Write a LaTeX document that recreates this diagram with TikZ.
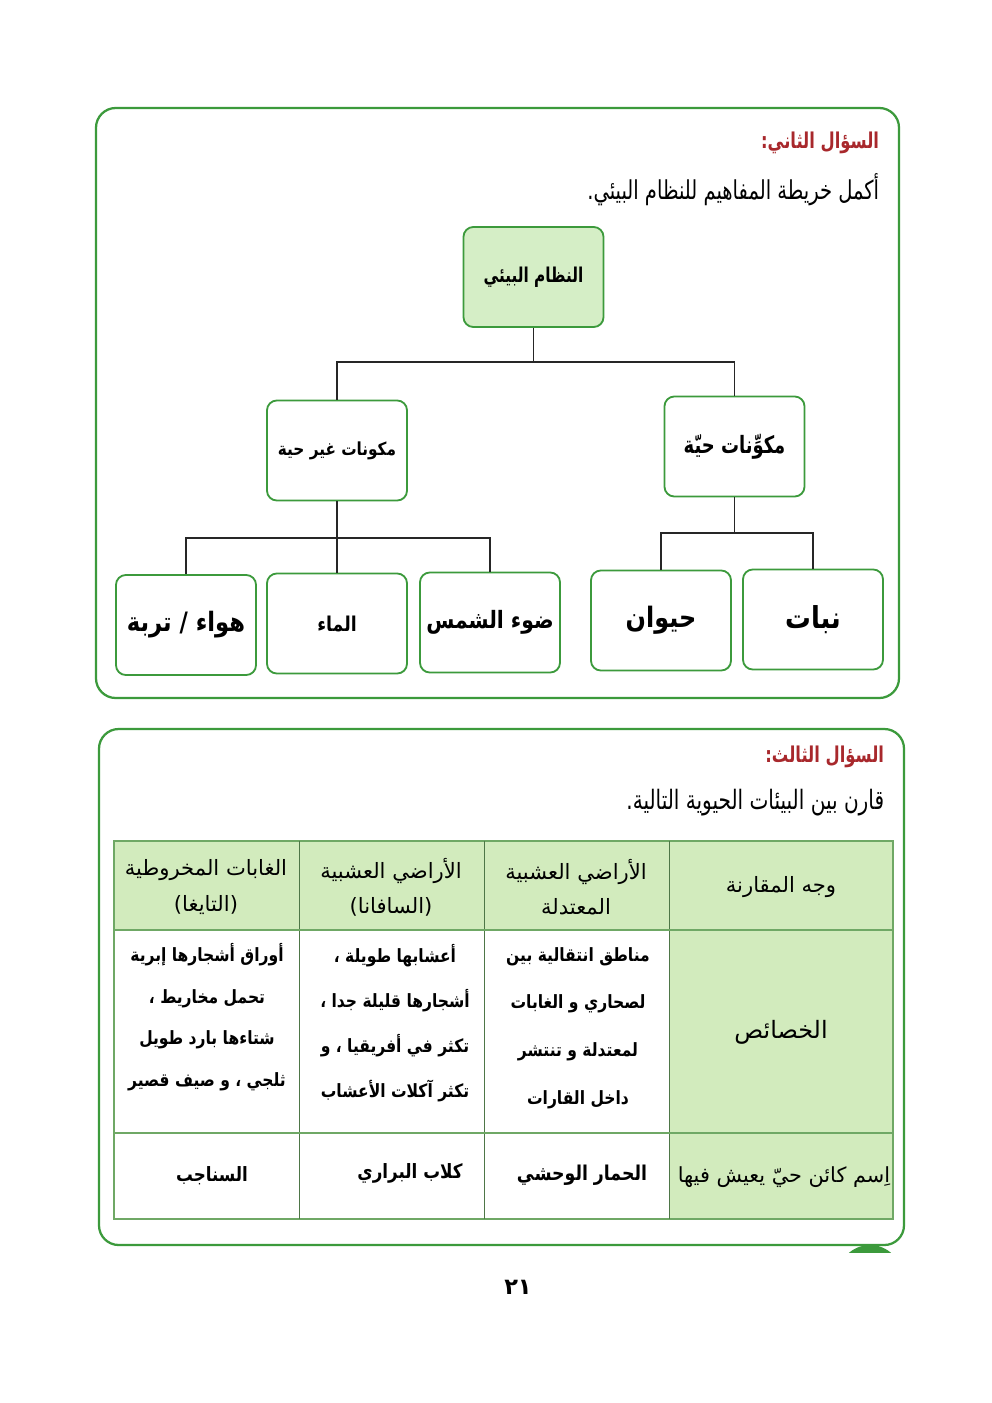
\documentclass[tikz,border=0pt]{standalone}
\usepackage{fontspec}
\usepackage{xcolor}
\usepackage{tikz}
\usetikzlibrary{positioning}
\TeXXeTstate=1
\newfontfamily\arabicfont[Script=Arabic]{DejaVu Sans}
\newfontfamily\arabicnarrow[Script=Arabic, FakeStretch=0.75]{DejaVu Sans}
\newfontfamily\arabicbold[Script=Arabic, FakeStretch=0.85]{DejaVu Sans}
\newcommand{\artxt}[1]{\beginR #1\endR}
\definecolor{framegreen}{HTML}{3C9A3C}
\definecolor{boxfill}{HTML}{D5EEC6}
\definecolor{cellfill}{HTML}{D2EBBD}
\definecolor{gridgreen}{HTML}{6FA865}
\definecolor{titlered}{HTML}{A8282C}
\newcommand{\fsz}[1]{\fontsize{#1}{1.25\dimexpr#1pt\relax}\selectfont}

\begin{document}
\begin{tikzpicture}[x=0.025cm, y=-0.025cm,
    mapbox/.style={draw=framegreen, line width=1.3pt, rounded corners=7pt, fill=white,
        minimum width=3.5cm, minimum height=2.5cm, inner sep=0pt},
    rootbox/.style={mapbox, fill=boxfill},
    link/.style={black!85, line width=1pt},
    headcell/.style={font=\arabicfont\fontsize{15}{25}\selectfont, align=center},
    bodycell/.style={font=\arabicbold\bfseries\fontsize{13}{34}\selectfont, align=center}]

    \useasboundingbox (0,0) rectangle (992,1403);
    \fill[white] (0,0) rectangle (992,1403);

    % frames of the two questions
    \draw[framegreen, line width=1.6pt, rounded corners=14pt] (96,108) rectangle (899,698);
    \draw[framegreen, line width=1.6pt, rounded corners=14pt] (99,729) rectangle (904,1245);
    \begin{scope}
        \clip (830,1240) rectangle (910,1252);
        \fill[framegreen] (870,1277) circle (0.8cm);
    \end{scope}

    % question two
    \node[anchor=east, text=titlered, font=\arabicnarrow\bfseries\fsz{15.5}] (qtwo) at (884,143) {\artxt{السؤال الثاني:}};
    \node[anchor=east, font=\arabicnarrow\fsz{18.5}] (qtwotext) at (884,190) {\artxt{أكمل خريطة المفاهيم للنظام البيئي.}};

    % concept map
    \node[rootbox, font=\arabicnarrow\bfseries\fsz{14.5}] (eco) at (533.5,277) {\artxt{النظام البيئي}};
    \node[mapbox, font=\arabicbold\bfseries\fsz{12.8}] (nonliving) at (337,450.5) {\artxt{مكونات غير حية}};
    \node[mapbox, font=\arabicnarrow\bfseries\fsz{17}] (living) at (734.5,446.5) {\artxt{مكوِّنات حيّة}};

    \node[mapbox, font=\arabicbold\bfseries\fsz{19}] (airsoil) at (186,625) {\artxt{هواء / تربة}};
    \node[mapbox, font=\arabicbold\bfseries\fsz{14.5}] (water) at (337,623.5) {\artxt{الماء}};
    \node[mapbox, font=\arabicbold\bfseries\fsz{17}] (sun) at (490,622.5) {\artxt{ضوء الشمس}};
    \node[mapbox, font=\arabicbold\bfseries\fsz{20}] (animal) at (661,620.5) {\artxt{حيوان}};
    \node[mapbox, font=\arabicbold\bfseries\fsz{21.5}] (plant) at (813,619.5) {\artxt{نبات}};

    \coordinate (bustop) at (533.5,362);
    \coordinate (busleft) at (337,538);
    \coordinate (busright) at (734.5,533);

    \draw[link] (eco.south) -- (bustop);
    \draw[link] (bustop) -| (nonliving.north);
    \draw[link] (bustop) -| (living.north);
    \draw[link] (nonliving.south) -- (busleft) -- (water.north);
    \draw[link] (busleft) -| (airsoil.north);
    \draw[link] (busleft) -| (sun.north);
    \draw[link] (living.south) -- (busright);
    \draw[link] (busright) -| (animal.north);
    \draw[link] (busright) -| (plant.north);

    % question three
    \node[anchor=east, text=titlered, font=\arabicnarrow\bfseries\fsz{15.5}] (qthree) at (889,757) {\artxt{السؤال الثالث:}};
    \node[anchor=east, font=\arabicnarrow\fsz{19}] (qthreetext) at (889,803) {\artxt{قارن بين البيئات الحيوية التالية.}};

    % comparison table
    \fill[cellfill] (114,841) rectangle (893,930);
    \fill[cellfill] (669,930) rectangle (893,1219);
    \draw[gridgreen, line width=0.9pt] (114,841) rectangle (893,1219);
    \foreach \xc in {299,484,669}
        \draw[gridgreen!70!black, line width=0.6pt] (\xc,841) -- (\xc,1219);
    \foreach \yc in {930,1133}
        \draw[gridgreen, line width=0.8pt] (114,\yc) -- (893,\yc);

    \node[headcell] (hface) at (781,887) {\artxt{وجه المقارنة}};
    \node[headcell] (htemperate) at (576,887) {\artxt{الأراضي العشبية}\\\artxt{المعتدلة}};
    \node[headcell] (hsavanna) at (391,887) {\artxt{الأراضي العشبية}\\\artxt{(السافانا)}};
    \node[headcell] (htaiga) at (206,887) {\artxt{الغابات المخروطية}\\\artxt{(التايغا)}};

    \node[font=\arabicfont\fsz{17}] (traits) at (781,1032) {\artxt{الخصائص}};
    \node[bodycell] (ttemperate) at (578,1028) {\artxt{مناطق انتقالية بين}\\\artxt{لصحاري و الغابات}\\\artxt{لمعتدلة و تنتشر}\\\artxt{داخل القارات}};
    \node[bodycell, font=\arabicbold\bfseries\fontsize{13}{32}\selectfont] (tsavanna) at (395,1023) {\artxt{أعشابها طويلة ،}\\\artxt{أشجارها قليلة جدا ،}\\\artxt{تكثر في أفريقيا ، و}\\\artxt{تكثر آكلات الأعشاب}};
    \node[bodycell, font=\arabicbold\bfseries\fontsize{13}{29.5}\selectfont] (ttaiga) at (207,1017) {\artxt{أوراق أشجارها إبرية}\\\artxt{تحمل مخاريط ،}\\\artxt{شتاءها بارد طويل}\\\artxt{ثلجي ، و صيف قصير}};

    \node[font=\arabicfont\fsz{14.8}] (creature) at (784,1177) {\artxt{اِسم كائن حيّ يعيش فيها}};
    \node[font=\arabicbold\bfseries\fsz{14.5}] (ctemperate) at (582,1175) {\artxt{الحمار الوحشي}};
    \node[font=\arabicbold\bfseries\fsz{14}] (csavanna) at (410,1173) {\artxt{كلاب البراري}};
    \node[font=\arabicbold\bfseries\fsz{14}] (ctaiga) at (212,1176) {\artxt{السناجب}};

    % page number
    \node[font=\arabicfont\bfseries\fsz{16}] (pagenum) at (518,1287) {\artxt{٢١}};
\end{tikzpicture}
\end{document}
